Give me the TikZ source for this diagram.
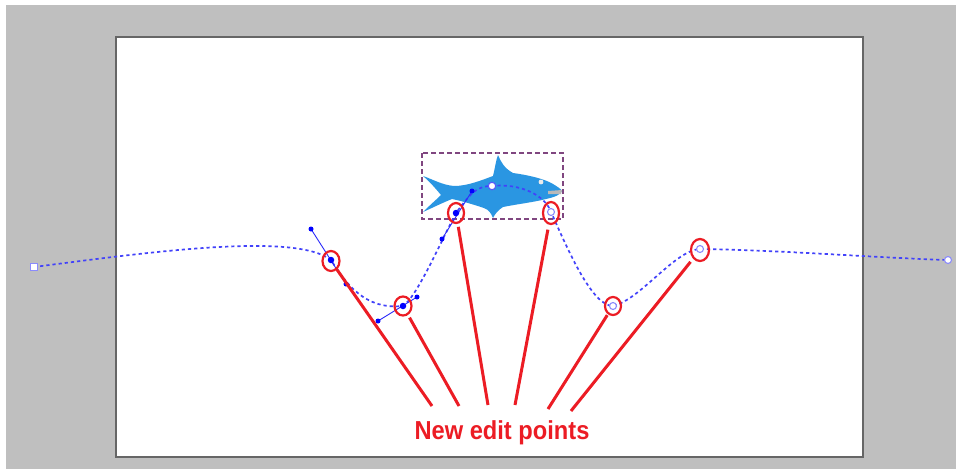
\documentclass[tikz,border=0pt]{standalone}
\usepackage{fontspec}
\setmainfont{Liberation Sans}
\usetikzlibrary{shapes.geometric}
\definecolor{sharkblue}{RGB}{42,150,226}
\definecolor{pathblue}{RGB}{45,45,250}
\definecolor{markred}{RGB}{236,28,36}
\begin{document}
\begin{tikzpicture}[x=1pt,y=-1pt,
  curve/.style={pathblue!90!white, line width=1.7pt, dash pattern=on 3.2pt off 3pt},
  handle/.style={pathblue, line width=0.9pt},
  knot/.style={circle, fill=blue, inner sep=0pt, minimum size=6.5pt},
  hknot/.style={circle, fill=blue, inner sep=0pt, minimum size=5pt},
  oknot/.style={circle, draw=pathblue!55!white, fill=white, line width=1.1pt, inner sep=0pt, minimum size=7pt},
  ring/.style={draw=markred, line width=2.2pt, ellipse, inner sep=0pt},
  pointer/.style={markred, line width=3pt}
]
% page frame
\useasboundingbox (0,0) rectangle (956,469);
\fill[white] (0,0) rectangle (956,469);
\fill[black!25] (6,5) rectangle (956,469);
\fill[white] (116,37) rectangle (863,457);
\draw[black!60, line width=1.6pt] (116,37) rectangle (863,457);

% shark inside its dashed bounding box
\draw[violet!45!gray, line width=1.3pt, dash pattern=on 5pt off 3pt] (422,153) rectangle (563,219);
\fill[sharkblue]
  (423,176) .. controls (432,179) and (442,185) .. (454,186)
  .. controls (468,186) and (482,180) .. (493,176)
  .. controls (495,168) and (496,160) .. (498,155)
  .. controls (501,162) and (504,168) .. (513,173)
  .. controls (528,175) and (545,179) .. (553,184)
  .. controls (558,187) and (561,189) .. (562,191)
  .. controls (560,195) and (555,197) .. (546,199)
  .. controls (535,202) and (518,204) .. (503,207)
  .. controls (498,210) and (495,214) .. (493,218)
  .. controls (491,213) and (489,210) .. (484,208)
  .. controls (475,205) and (462,201) .. (452,199)
  .. controls (442,203) and (432,208) .. (423,212)
  .. controls (430,205) and (437,199) .. (441,195)
  .. controls (436,189) and (430,182) .. (423,176) -- cycle;
\fill[gray!55] (548,191) -- (562,190) -- (561,194) -- (548,194) -- cycle;
\fill[white!85!gray] (541,182) circle (2.4pt);

% named points of the path
\coordinate (e0) at (34,267);
\coordinate (a1) at (331,260);
\coordinate (a2) at (403,306);
\coordinate (a3) at (456,213);
\coordinate (a4) at (492,186);
\coordinate (a5) at (551,212);
\coordinate (a6) at (613,306);
\coordinate (a7) at (700,249);
\coordinate (e1) at (948,260);
\coordinate (h1a) at (311,229);
\coordinate (h1b) at (346,284);
\coordinate (h2a) at (378,321);
\coordinate (h2b) at (417,297);
\coordinate (h3a) at (442,239);
\coordinate (h3b) at (472,191);

% the edited path
\draw[curve] (e0) .. controls (150,252) and (295,232) .. (a1)
  .. controls (h1b) and (365,310) .. (a2)
  .. controls (h2b) and (h3a) .. (a3)
  .. controls (h3b) and (478,186) .. (a4)
  .. controls (520,183) and (545,195) .. (a5)
  .. controls (568,250) and (592,306) .. (a6)
  .. controls (640,300) and (675,250) .. (a7)
  .. controls (780,250) and (880,258) .. (e1);

% handles of the selected nodes
\draw[handle] (h1a) -- (h1b);
\draw[handle] (h2a) -- (h2b);
\draw[handle] (h3a) -- (h3b);
\foreach \h in {h1a,h1b,h2a,h2b,h3a,h3b} \node[hknot] at (\h) {};

% nodes
\node[draw=pathblue!55!white, fill=white, line width=1.1pt, inner sep=0pt, minimum size=6.5pt] (n0) at (e0) {};
\node[knot] (n1) at (a1) {};
\node[knot] (n2) at (a2) {};
\node[knot] (n3) at (a3) {};
\node[circle, draw=pathblue!80!white, fill=white, line width=1.1pt, inner sep=0pt, minimum size=7.5pt] (n4) at (a4) {};
\node[oknot] (n5) at (a5) {};
\node[oknot] (n6) at (a6) {};
\node[oknot] (n7) at (a7) {};
\node[oknot] (n8) at (e1) {};

% highlight rings
\node[ring, minimum width=17pt, minimum height=20pt] (r1) at (331,261) {};
\node[ring, minimum width=17pt, minimum height=19pt] (r2) at (403,306) {};
\node[ring, minimum width=16pt, minimum height=20pt] (r3) at (456,213) {};
\node[ring, minimum width=16pt, minimum height=22pt] (r5) at (551,213) {};
\node[ring, minimum width=16pt, minimum height=18pt] (r6) at (613,306) {};
\node[ring, minimum width=18pt, minimum height=22pt] (r7) at (700,250) {};

% caption and pointers
\node[text=markred, font=\bfseries\fontsize{26}{26}\selectfont, xscale=0.91, inner sep=0pt] (cap) at (502,433) {New edit points};
\coordinate (t1) at (432,406);
\coordinate (t2) at (459,406);
\coordinate (t3) at (488,405);
\coordinate (t4) at (515,405);
\coordinate (t5) at (548,409);
\coordinate (t6) at (571,411);
\draw[pointer] (r1) -- (t1);
\draw[pointer, shorten <=3pt] (r2) -- (t2);
\draw[pointer, shorten <=3pt] (r3) -- (t3);
\draw[pointer, shorten <=5pt] (r5) -- (t4);
\draw[pointer, shorten <=1pt] (r6) -- (t5);
\draw[pointer, shorten <=4pt] (r7) -- (t6);
\end{tikzpicture}
\end{document}
